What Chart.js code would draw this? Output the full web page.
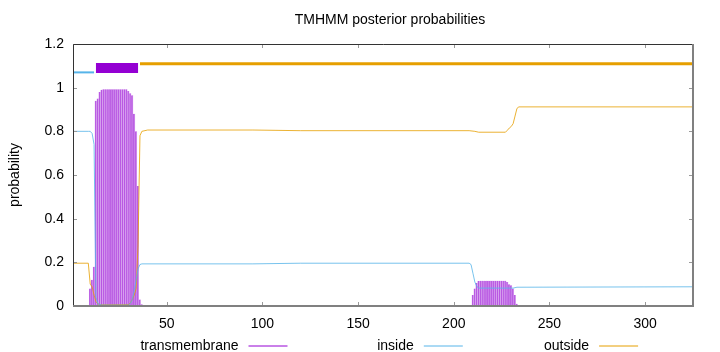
<!DOCTYPE html>
<html>
<head>
<meta charset="utf-8">
<script src="https://cdn.jsdelivr.net/npm/chart.js@4/dist/chart.umd.min.js"></script>
<style>
  body { margin: 0; background: #fff; }
  canvas { display: block; }
</style>
</head>
<body>
<canvas id="tmhmm" width="720" height="352"></canvas>
<script>

/* DATA */
const seriesNames = ["transmembrane", "inside", "outside"];

// transmembrane posterior, drawn as impulses
const tmResidues = [
  10, 11, 12, 13, 14, 15, 16, 17, 18, 19, 20, 21, 22, 23, 24, 25, 26, 27, 28, 29,
  30, 31, 32, 33, 34, 35, 36, 37,
  95, 96, 97, 98, 99, 100, 101, 102, 103, 104, 105, 106, 107, 108, 109, 110,
  111, 112, 113, 114, 115, 116, 117, 118, 119,
  210, 211, 212, 213, 214, 215, 216, 217, 218, 219, 220, 221, 222, 223, 224, 225,
  226, 227, 228, 229, 230, 231, 232, 233, 234, 235
];
const tmProbs = [
  0.08, 0.12, 0.18, 0.94, 0.95, 0.98, 0.99, 0.993, 0.993, 0.993, 0.993, 0.993, 0.993, 0.993, 0.993, 0.993, 0.993, 0.993, 0.993, 0.993,
  0.985, 0.975, 0.965, 0.88, 0.80, 0.55, 0.03, 0.008,
  0.004, 0.004, 0.004, 0.004, 0.004, 0.004, 0.004, 0.004, 0.004, 0.004, 0.004, 0.004, 0.004, 0.004, 0.004, 0.004,
  0.004, 0.004, 0.004, 0.004, 0.004, 0.004, 0.004, 0.004, 0.004,
  0.05, 0.08, 0.105, 0.114, 0.116, 0.116, 0.116, 0.116, 0.116, 0.116, 0.116, 0.116, 0.116, 0.116, 0.116, 0.116,
  0.116, 0.116, 0.11, 0.10, 0.095, 0.08, 0.05, 0.01, 0.005, 0.003
];

// inside posterior
const insideX = [1, 9, 10, 11, 12, 13, 14, 16, 30, 31, 32, 33, 34, 35, 36, 37, 95, 120, 208, 209, 210, 211, 212, 213, 231, 232, 233, 325];
const insideY = [0.80, 0.80, 0.80, 0.79, 0.74, 0.04, 0.01, 0.004, 0.004, 0.012, 0.03, 0.07, 0.12, 0.17, 0.19, 0.193, 0.193, 0.196, 0.196, 0.19, 0.15, 0.11, 0.09, 0.082, 0.082, 0.084, 0.086, 0.088];

// outside posterior
const outsideX = [1, 9, 10, 11, 12, 13, 14, 15, 30, 31, 32, 33, 34, 35, 36, 37, 40, 95, 120, 208, 211, 213, 227, 228, 229, 230, 231, 232, 233, 234, 325];
const outsideY = [0.196, 0.196, 0.10, 0.088, 0.05, 0.02, 0.01, 0.005, 0.006, 0.015, 0.03, 0.05, 0.08, 0.28, 0.78, 0.80, 0.806, 0.806, 0.803, 0.803, 0.800, 0.796, 0.796, 0.805, 0.815, 0.822, 0.835, 0.87, 0.905, 0.912, 0.912];

// predicted topology bars above the curves
const segmentStart = [1, 13, 36];
const segmentEnd = [12, 35, 325];
const segmentLevel = [1.07, 1.09, 1.11];

const xTickValues = [50, 100, 150, 200, 250, 300];
const yTickValues = [0, 0.2, 0.4, 0.6, 0.8, 1, 1.2];
const yTickLabels = ["0", "0.2", "0.4", "0.6", "0.8", "1", "1.2"];

const colors = ["#9400d3", "#56b4e9", "#e69f00"];
const FONT = "'Liberation Sans', Arial, sans-serif";


/* FRAME, TITLE, LEGEND */
const frame = {
  id: "frame",

  afterDatasetsDraw(chart) {
    const { ctx, chartArea: a, scales: { x, y } } = chart;

    ctx.save();

    // small inward ticks, mirrored
    ctx.strokeStyle = "#999";
    ctx.lineWidth = 1;
    ctx.beginPath();
    yTickValues.forEach(v => {
      const py = Math.round(y.getPixelForValue(v)) + 0.5;
      ctx.moveTo(a.left, py); ctx.lineTo(a.left + 4, py);
      ctx.moveTo(a.right, py); ctx.lineTo(a.right - 4, py);
    });
    xTickValues.forEach(v => {
      const px = Math.round(x.getPixelForValue(v)) + 0.5;
      ctx.moveTo(px, a.bottom); ctx.lineTo(px, a.bottom - 4);
      ctx.moveTo(px, a.top); ctx.lineTo(px, a.top + 4);
    });
    ctx.stroke();

    // top + left border
    ctx.strokeStyle = "#333";
    ctx.beginPath();
    ctx.moveTo(a.left + 0.5, a.bottom);
    ctx.lineTo(a.left + 0.5, a.top + 0.5);
    ctx.lineTo(a.right, a.top + 0.5);
    ctx.stroke();

    // bottom + right border
    ctx.strokeStyle = "#808080";
    ctx.lineWidth = 2;
    ctx.beginPath();
    ctx.moveTo(a.left, a.bottom);
    ctx.lineTo(a.right, a.bottom);
    ctx.lineTo(a.right, a.top);
    ctx.stroke();

    ctx.restore();
  },

  afterDraw(chart) {
    const { ctx, chartArea: a } = chart;

    ctx.save();
    ctx.fillStyle = "#000";
    ctx.font = "14px " + FONT;
    ctx.textBaseline = "middle";

    // title
    ctx.textAlign = "center";
    ctx.fillText("TMHMM posterior probabilities", (a.left + a.right) / 2 + 7, 20);

    // y label
    ctx.save();
    ctx.translate(15, (a.top + a.bottom) / 2);
    ctx.rotate(-Math.PI / 2);
    ctx.fillText("probability", 0, 0);
    ctx.restore();

    // legend: text then line sample
    ctx.textAlign = "right";
    seriesNames.forEach((name, i) => {
      const tx = 238.5 + i * 175.3;
      ctx.fillStyle = "#000";
      ctx.fillText(name, tx, 346.5);
      ctx.strokeStyle = colors[i];
      ctx.lineWidth = 1;
      ctx.beginPath();
      ctx.moveTo(tx + 10, 346);
      ctx.lineTo(tx + 49, 346);
      ctx.stroke();
    });

    ctx.restore();
  }
};


/* CHART */
const toPoints = (xs, ys) => xs.map((v, i) => ({ x: v, y: ys[i] }));

const topColors = [colors[1], colors[0], colors[2]];
const topWidths = [2, 10, 3];

const segmentSets = segmentStart.map((s, i) => ({
  type: "line",
  data: [{ x: s, y: segmentLevel[i] }, { x: segmentEnd[i], y: segmentLevel[i] }],
  borderColor: topColors[i],
  borderWidth: topWidths[i],
  borderCapStyle: "butt",
  pointRadius: 0,
  order: 1
}));

new Chart(document.getElementById("tmhmm"), {

  type: "line",

  data: {
    datasets: [
      ...segmentSets,
      {
        type: "line",
        label: seriesNames[1],
        data: toPoints(insideX, insideY),
        borderColor: "rgba(86, 180, 233, 0.8)",
        borderWidth: 1,
        pointRadius: 0,
        tension: 0,
        order: 1
      },
      {
        type: "line",
        label: seriesNames[2],
        data: toPoints(outsideX, outsideY),
        borderColor: "rgba(230, 159, 0, 0.8)",
        borderWidth: 1,
        pointRadius: 0,
        tension: 0,
        order: 1
      },
      {
        type: "bar",
        label: seriesNames[0],
        data: toPoints(tmResidues, tmProbs),
        backgroundColor: "rgba(148, 0, 211, 0.25)",
        borderColor: "rgba(148, 0, 211, 0.6)",
        borderWidth: { left: 1, right: 0, top: 0, bottom: 0 },
        borderSkipped: false,
        barThickness: 1.9,
        order: 2
      }
    ]
  },

  options: {
    responsive: false,
    animation: false,
    devicePixelRatio: 1,
    layout: { padding: { top: 44, right: 27, bottom: 0, left: 0 } },
    font: { family: FONT, size: 14 },
    plugins: {
      legend: { display: false },
      title: { display: false },
      tooltip: { enabled: false }
    },
    scales: {
      x: {
        type: "linear",
        min: 1,
        max: 325,
        offset: false,
        grid: { display: false, drawTicks: false },
        border: { display: false },
        afterFit: s => { s.height = 46; },
        afterBuildTicks: s => { s.ticks = xTickValues.map(v => ({ value: v })); },
        ticks: {
          padding: 10,
          color: "#000",
          font: { family: FONT, size: 14 },
          maxRotation: 0,
          callback: v => String(v)
        }
      },
      y: {
        min: 0,
        max: 1.2,
        grid: { display: false, drawTicks: false },
        border: { display: false },
        afterFit: s => { s.width = 73; },
        afterBuildTicks: s => { s.ticks = yTickValues.map(v => ({ value: v })); },
        ticks: {
          padding: 9,
          color: "#000",
          font: { family: FONT, size: 14 },
          callback: (v, i) => yTickLabels[i]
        }
      }
    }
  },

  plugins: [frame]

});

</script>
</body>
</html>
